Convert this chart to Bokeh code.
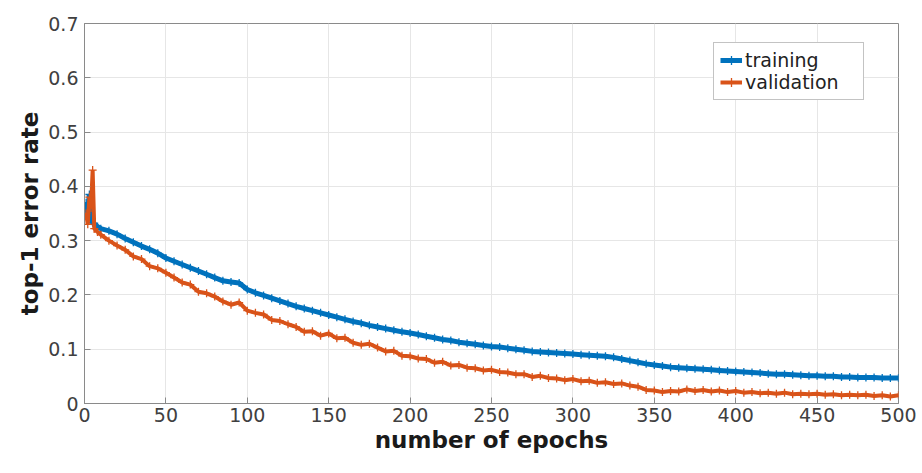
from bokeh.plotting import figure
from bokeh.models import Legend, LegendItem, FixedTicker, Range1d
from bokeh.embed import file_html
from bokeh.resources import INLINE

# ---- data ----
epochs = [1, 2, 3, 4, 5, 6, 8] + list(range(10, 501, 5))

training = [
    0.370, 0.350, 0.385, 0.340, 0.333, 0.330, 0.326,
    # 10 .. 55
    0.322, 0.318, 0.312, 0.304, 0.297, 0.290, 0.284, 0.277, 0.268, 0.262,
    # 60 .. 105
    0.256, 0.250, 0.244, 0.238, 0.232, 0.226, 0.224, 0.222, 0.210, 0.204,
    # 110 .. 155
    0.199, 0.194, 0.189, 0.184, 0.179, 0.175, 0.171, 0.167, 0.163, 0.159,
    # 160 .. 205
    0.155, 0.151, 0.148, 0.144, 0.141, 0.138, 0.135, 0.132, 0.130, 0.127,
    # 210 .. 255
    0.124, 0.121, 0.118, 0.116, 0.113, 0.111, 0.109, 0.107, 0.105, 0.104,
    # 260 .. 305
    0.102, 0.100, 0.098, 0.096, 0.095, 0.094, 0.093, 0.092, 0.091, 0.090,
    # 310 .. 355
    0.089, 0.088, 0.087, 0.085, 0.082, 0.079, 0.076, 0.073, 0.071, 0.069,
    # 360 .. 405
    0.067, 0.066, 0.065, 0.064, 0.063, 0.062, 0.061, 0.060, 0.059, 0.058,
    # 410 .. 455
    0.057, 0.056, 0.055, 0.054, 0.054, 0.053, 0.052, 0.051, 0.051, 0.050,
    # 460 .. 500
    0.050, 0.049, 0.049, 0.048, 0.048, 0.048, 0.047, 0.047, 0.047,
]

validation = [
    0.350, 0.330, 0.380, 0.360, 0.430, 0.322, 0.316,
    # 10 .. 55
    0.311, 0.300, 0.291, 0.283, 0.271, 0.266, 0.253, 0.249, 0.241, 0.232,
    # 60 .. 105
    0.223, 0.219, 0.206, 0.203, 0.197, 0.188, 0.182, 0.186, 0.171, 0.167,
    # 110 .. 155
    0.164, 0.154, 0.152, 0.146, 0.141, 0.132, 0.133, 0.125, 0.129, 0.120,
    # 160 .. 205
    0.121, 0.112, 0.108, 0.110, 0.103, 0.096, 0.097, 0.088, 0.087, 0.083,
    # 210 .. 255
    0.082, 0.075, 0.077, 0.070, 0.071, 0.066, 0.065, 0.061, 0.062, 0.058,
    # 260 .. 305
    0.057, 0.054, 0.054, 0.049, 0.051, 0.047, 0.046, 0.043, 0.045, 0.041,
    # 310 .. 355
    0.042, 0.038, 0.039, 0.036, 0.037, 0.033, 0.031, 0.025, 0.024, 0.021,
    # 360 .. 405
    0.023, 0.022, 0.026, 0.023, 0.025, 0.022, 0.024, 0.021, 0.023, 0.020,
    # 410 .. 455
    0.021, 0.019, 0.020, 0.018, 0.020, 0.017, 0.018, 0.017, 0.018, 0.016,
    # 460 .. 500
    0.017, 0.015, 0.016, 0.015, 0.016, 0.014, 0.015, 0.013, 0.015,
]

x_ticks = [0, 50, 100, 150, 200, 250, 300, 350, 400, 450, 500]
y_ticks = [0, 0.1, 0.2, 0.3, 0.4, 0.5, 0.6, 0.7]
y_tick_labels = ["0", "0.1", "0.2", "0.3", "0.4", "0.5", "0.6", "0.7"]
series_names = ["training", "validation"]
x_label = "number of epochs"
y_label = "top-1 error rate"

assert len(epochs) == len(training) == len(validation)

# ---- style ----
FONT = "DejaVu Sans"
BLUE = "#0072BD"
ORANGE = "#D95319"
AXIS = "#8a8a8a"
TEXT = "#404040"

p = figure(width=922, height=473, output_backend="svg", toolbar_location=None,
           x_range=Range1d(0, 500), y_range=Range1d(0, 0.7),
           min_border_left=84, min_border_right=24, min_border_top=23,
           min_border_bottom=70)

p.outline_line_color = AXIS
p.outline_line_width = 1
p.background_fill_color = "white"
p.border_fill_color = "white"

p.xaxis.ticker = FixedTicker(ticks=x_ticks)
p.yaxis.ticker = FixedTicker(ticks=y_ticks)
p.yaxis.major_label_overrides = {t: l for t, l in zip(y_ticks, y_tick_labels)}

for ax in (p.xaxis[0], p.yaxis[0]):
    ax.axis_line_color = AXIS
    ax.major_tick_line_color = AXIS
    ax.major_tick_in = 6
    ax.major_tick_out = 0
    ax.minor_tick_line_color = None
    ax.major_label_text_font = FONT
    ax.major_label_text_font_size = "19px"
    ax.major_label_text_color = TEXT
    ax.axis_label_text_font = FONT
    ax.axis_label_text_font_size = "23px"
    ax.axis_label_text_font_style = "bold"
    ax.axis_label_text_color = "#1a1a1a"

p.xaxis.axis_label = x_label
p.yaxis.axis_label = y_label
p.xaxis.major_label_standoff = 4
p.yaxis.major_label_standoff = 6
p.xaxis.axis_label_standoff = 2
p.yaxis.axis_label_standoff = 2

p.xgrid.ticker = FixedTicker(ticks=x_ticks)
p.ygrid.ticker = FixedTicker(ticks=y_ticks)
p.xgrid.grid_line_color = "#e6e6e6"
p.ygrid.grid_line_color = "#e6e6e6"

# ---- series ----
l1 = p.line(epochs, training, line_color=BLUE, line_width=5)
s1 = p.scatter(epochs, training, marker="cross", size=8, line_color=BLUE, line_width=1.3)
l2 = p.line(epochs, validation, line_color=ORANGE, line_width=4)
s2 = p.scatter(epochs, validation, marker="cross", size=8, line_color=ORANGE, line_width=1.3)

legend = Legend(items=[LegendItem(label=series_names[0], renderers=[l1, s1]),
                       LegendItem(label=series_names[1], renderers=[l2, s2])],
                location=(629, 303))
legend.label_text_font = FONT
legend.label_text_font_size = "19px"
legend.label_text_color = "#222222"
legend.border_line_color = "#888888"
legend.background_fill_alpha = 1
legend.glyph_width = 22
legend.glyph_height = 22
legend.label_standoff = 3
legend.label_width = 112
legend.spacing = 0
legend.padding = 6
legend.margin = 0
legend.label_height = 22
p.add_layout(legend, "center")

out = file_html(p, INLINE)
open("out.html", "w").write(out)
